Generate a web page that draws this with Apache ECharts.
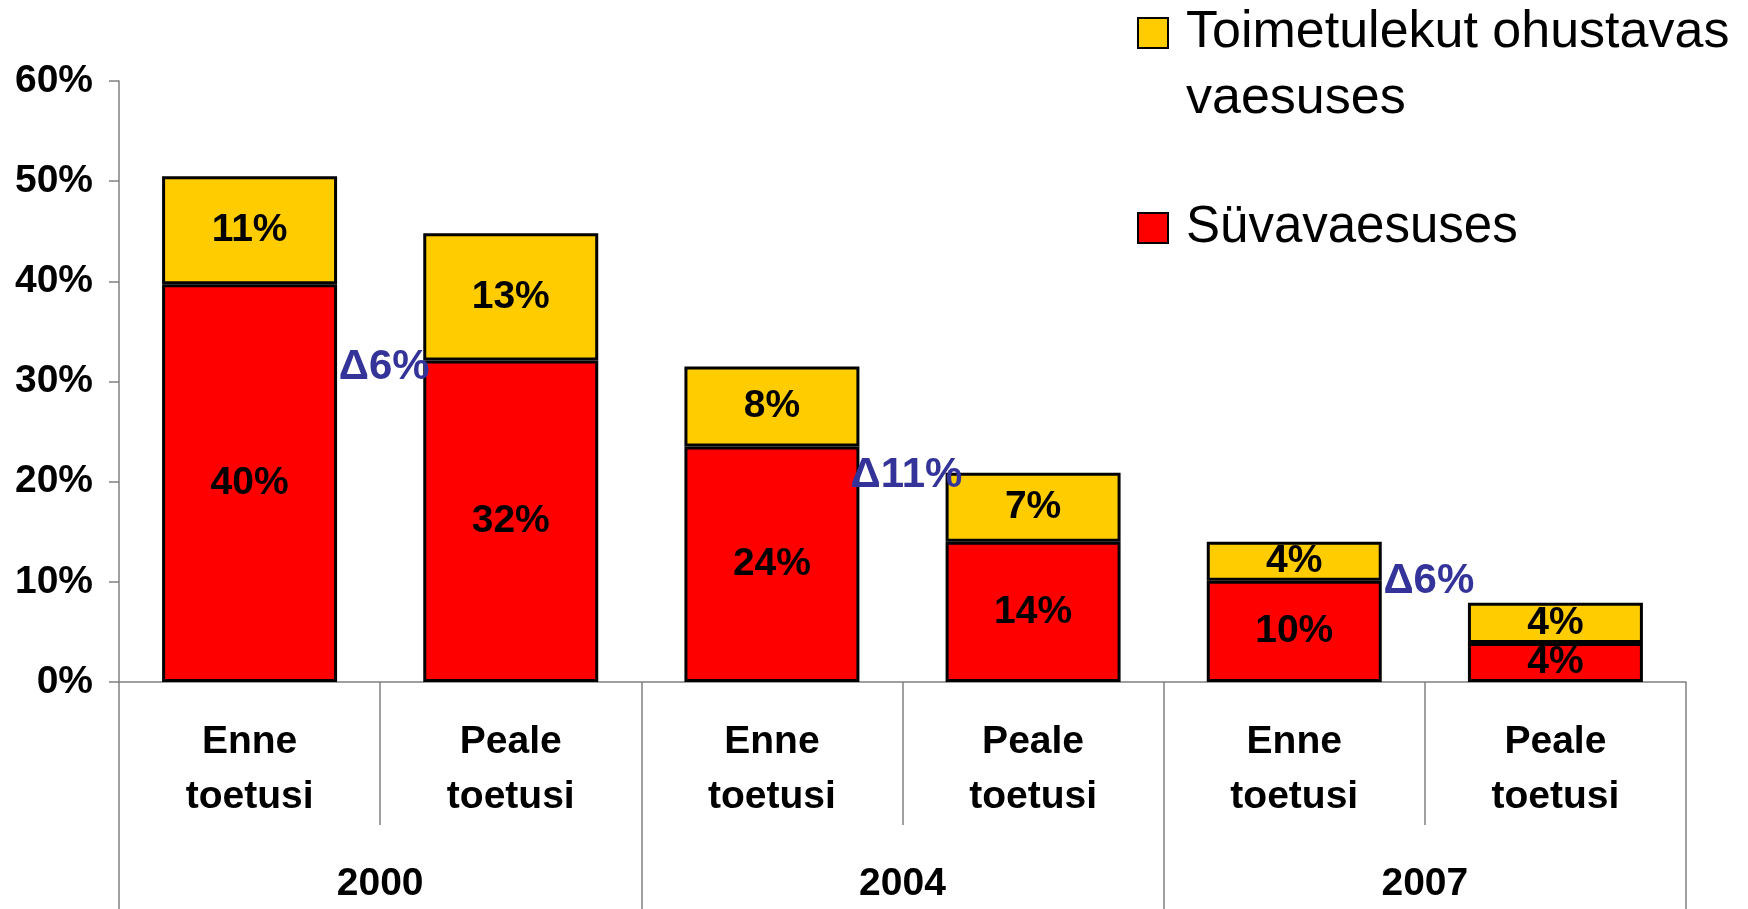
<!DOCTYPE html>
<html>
<head>
<meta charset="utf-8">
<script src="https://cdn.jsdelivr.net/npm/echarts@6/dist/echarts.min.js"></script>
<style>
  html, body { margin: 0; padding: 0; background: #fff; }
  #chart { width: 1748px; height: 909px; }
</style>
</head>
<body>
<div id="chart"></div>
<script>
// data
const categories = ['Enne\ntoetusi', 'Peale\ntoetusi', 'Enne\ntoetusi', 'Peale\ntoetusi', 'Enne\ntoetusi', 'Peale\ntoetusi']
const years = ['2000', '2004', '2007']
const deepPoverty = [39.7, 32.1, 23.5, 14.0, 10.1, 3.9]   // Süvavaesuses
const atRisk = [10.8, 12.7, 8.0, 6.9, 3.9, 4.0]           // Toimetulekut ohustavas vaesuses
const deltaLabels = ['Δ6%', 'Δ11%', 'Δ6%']
const deltaLevels = [31.4, 20.6, 10.0]

const nameRisk = 'Toimetulekut ohustavas\nvaesuses'
const nameDeep = 'Süvavaesuses'

const font = "'Liberation Sans', Arial, sans-serif"
const axisGray = '#808080'
const gridBox = { left: 119, right: 62, top: 81, bottom: 227 }

const chart = echarts.init(document.getElementById('chart'))

const barLabel = {
  show: true,
  position: 'inside',
  color: '#000',
  fontFamily: font,
  fontWeight: 'bold',
  fontSize: 39,
  formatter: p => Math.round(p.value) + '%'
}

chart.setOption({
  animation: false,
  textStyle: { fontFamily: font },
  grid: [
    Object.assign({}, gridBox),
    Object.assign({}, gridBox)
  ],
  legend: [{
    data: [nameRisk],
    orient: 'vertical',
    icon: 'rect',
    left: 1132,
    top: -71,
    itemWidth: 30,
    itemHeight: 30,
    // blank first line keeps the first text line level with the square
    formatter: name => ' \n' + name,
    textStyle: { fontFamily: font, fontSize: 52, color: '#000', lineHeight: 66, padding: [0, 0, 0, 13] }
  }, {
    data: [nameDeep],
    orient: 'vertical',
    icon: 'rect',
    left: 1132,
    top: 192,
    itemWidth: 30,
    itemHeight: 30,
    textStyle: { fontFamily: font, fontSize: 51, color: '#000', lineHeight: 62, padding: [0, 0, 0, 13] }
  }],
  xAxis: [{
    type: 'category',
    gridIndex: 0,
    data: categories,
    axisLine: { show: true, lineStyle: { color: axisGray, width: 1.5 } },
    axisTick: { show: true, interval: 0, length: 143, lineStyle: { color: axisGray, width: 1.5 } },
    axisLabel: {
      interval: 0, margin: 33, color: '#000', fontFamily: font,
      fontWeight: 'bold', fontSize: 39, lineHeight: 55
    }
  }, {
    type: 'category',
    gridIndex: 1,
    data: years,
    axisLine: { show: false },
    axisTick: { show: true, interval: 0, length: 227, lineStyle: { color: axisGray, width: 1.5 } },
    axisLabel: {
      interval: 0, margin: 180, color: '#000', fontFamily: font,
      fontWeight: 'bold', fontSize: 39, lineHeight: 44
    }
  }],
  yAxis: [{
    type: 'value',
    gridIndex: 0,
    min: 0,
    max: 60,
    interval: 10,
    splitLine: { show: false },
    axisLine: { show: true, lineStyle: { color: axisGray, width: 1.5 } },
    axisTick: { show: true, length: 10, lineStyle: { color: axisGray, width: 1.5 } },
    axisLabel: {
      margin: 26, color: '#000', fontFamily: font, fontWeight: 'bold', fontSize: 39,
      formatter: '{value}%'
    }
  }, {
    type: 'value',
    gridIndex: 1,
    min: 0,
    max: 60,
    show: false
  }],
  series: [{
    name: nameDeep,
    type: 'bar',
    stack: 'total',
    barWidth: '67%',
    data: deepPoverty,
    itemStyle: { color: '#ff0000', borderColor: '#000', borderWidth: 3 },
    label: barLabel
  }, {
    name: nameRisk,
    type: 'bar',
    stack: 'total',
    barWidth: '67%',
    data: atRisk,
    itemStyle: { color: '#ffcc00', borderColor: '#000', borderWidth: 3 },
    label: barLabel
  }, {
    name: 'delta',
    type: 'scatter',
    xAxisIndex: 1,
    yAxisIndex: 1,
    symbolSize: 2,
    itemStyle: { color: 'rgba(0,0,0,0)', opacity: 1 },
    data: deltaLevels,
    label: {
      show: true,
      position: 'inside',
      offset: [4, 0],
      color: '#333399',
      fontFamily: font,
      fontWeight: 'bold',
      fontSize: 42,
      formatter: p => deltaLabels[p.dataIndex]
    }
  }]
})
</script>
</body>
</html>
